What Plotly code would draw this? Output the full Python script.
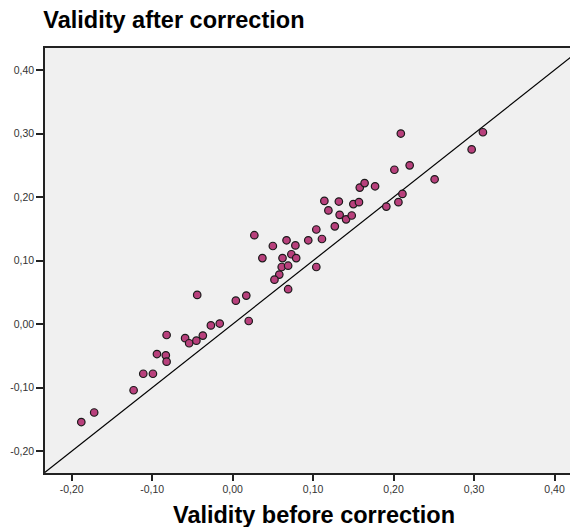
import plotly.graph_objects as go

# Validity before correction (x) and after correction (y)
before = [0.201, 0.158, 0.164, 0.177, 0.114, 0.132, 0.150, 0.157, 0.119, 0.133,
          0.141, 0.148, 0.127, 0.104, 0.111, 0.094, 0.027, 0.067, 0.050, 0.078,
          0.073, 0.062, 0.079, 0.037, 0.061, 0.069, 0.058, 0.052, 0.104, 0.069,
          0.017, 0.004, 0.020, -0.027, -0.016, -0.037, 0.209, 0.311, 0.297, 0.220,
          0.251, 0.211, 0.206, 0.191, -0.188, -0.172, -0.123, -0.111, -0.099, -0.094,
          -0.083, -0.082, -0.082, -0.059, -0.054, -0.045, -0.044]
after = [0.243, 0.215, 0.222, 0.217, 0.194, 0.193, 0.189, 0.192, 0.179, 0.172,
         0.165, 0.171, 0.154, 0.149, 0.134, 0.132, 0.140, 0.132, 0.123, 0.124,
         0.110, 0.104, 0.104, 0.104, 0.090, 0.092, 0.078, 0.070, 0.090, 0.055,
         0.045, 0.037, 0.005, -0.002, 0.001, -0.018, 0.300, 0.302, 0.275, 0.250,
         0.228, 0.205, 0.192, 0.185, -0.154, -0.139, -0.104, -0.078, -0.078, -0.047,
         -0.049, -0.059, -0.017, -0.022, -0.030, -0.026, 0.046]

ref_line = [-0.3, 0.5]
tick_vals = [-0.20, -0.10, 0.00, 0.10, 0.20, 0.30, 0.40]
tick_text = ["-0,20", "-0,10", "0,00", "0,10", "0,20", "0,30", "0,40"]

W, H = 570, 527
L, R, T, B = 45.3, 0, 48, H - 472.7

fig = go.Figure()
fig.add_trace(go.Scatter(x=ref_line, y=ref_line, mode="lines",
                         line=dict(color="black", width=1.2),
                         hoverinfo="skip", showlegend=False))
fig.add_trace(go.Scatter(x=before, y=after, mode="markers",
                         marker=dict(size=7.5, color="#b8407c",
                                     line=dict(color="#1a1a1a", width=1.2)),
                         showlegend=False))

FONT = "Liberation Sans, Arial, sans-serif"
tickfont = dict(family=FONT, size=10.5, color="#333333")
fig.update_layout(
    width=W, height=H,
    margin=dict(l=L, r=R, t=T, b=B, autoexpand=False),
    paper_bgcolor="white", plot_bgcolor="#f0f0f0",
    title=dict(text="<b>Validity after correction</b>", xref="container", yref="container",
               x=43.3 / W, xanchor="left", y=1 - 20 / H, yanchor="middle",
               font=dict(family=FONT, size=23.5, color="black")),
    xaxis=dict(range=[-0.2331, 0.4192], tickvals=tick_vals, ticktext=tick_text,
               showgrid=False, zeroline=False, showline=True, linecolor="#222222",
               linewidth=1.5, mirror=True, ticks="outside", ticklen=6, tickwidth=1.5,
               tickcolor="#222222", tickfont=tickfont),
    yaxis=dict(range=[-0.2342, 0.4346], tickvals=tick_vals, ticktext=tick_text,
               showgrid=False, zeroline=False, showline=True, linecolor="#222222",
               linewidth=1.5, mirror=False, ticks="outside", ticklen=7, tickwidth=1.5,
               tickcolor="#222222", tickfont=tickfont),
    annotations=[dict(text="<b>Validity before correction</b>", xref="paper", yref="paper",
                      x=(314 - L) / (W - L - R), y=-(515 - 472.7) / (472.7 - T),
                      xanchor="center", yanchor="middle", showarrow=False,
                      font=dict(family=FONT, size=23.5, color="black"))],
)
fig.write_html("out.html",
               config={"displayModeBar": False},
               post_script="document.body.style.margin='0';"
                           "document.body.style.overflow='hidden';")
